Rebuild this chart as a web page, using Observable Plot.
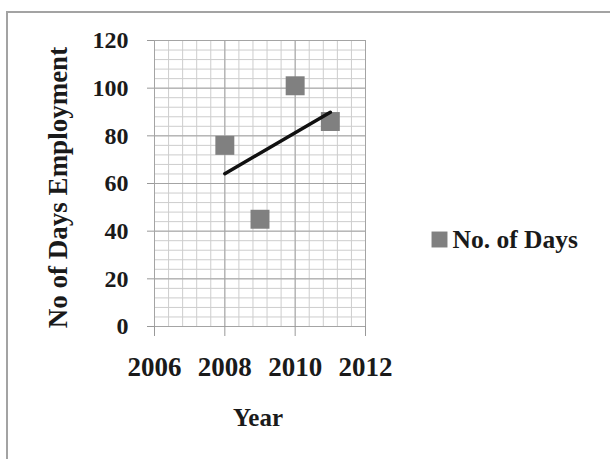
<!DOCTYPE html>
<html>
<head>
<meta charset="utf-8">
<script src="https://cdn.jsdelivr.net/npm/d3@7"></script>
<script src="https://cdn.jsdelivr.net/npm/@observablehq/plot@0.6"></script>
<style>
  html, body { margin: 0; padding: 0; background: #fff; }
  #wrap { position: relative; width: 610px; height: 459px; overflow: hidden; }
  #border { position: absolute; left: 6px; top: 11px; width: 700px; height: 600px; border: 2px solid #a3a3a3; box-sizing: border-box; }
  #chart { position: absolute; left: 0; top: 0; }
</style>
</head>
<body>
<div id="wrap"><div id="border"></div><div id="chart"></div></div>
<script>
const years = [2008, 2009, 2010, 2011];
const days = [76, 45, 101, 86];
const xTicks = [2006, 2008, 2010, 2012];
const yTicks = [0, 20, 40, 60, 80, 100, 120];
const seriesName = "No. of Days";
const xLabel = "Year";
const yLabel = "No of Days Employment";

const data = years.map((y, i) => ({year: y, days: days[i]}));
const xMinor = d3.range(0, 16).map(i => 2006 + i * 0.4);
const yMinor = d3.range(0, 31).map(i => i * 4);

const font = "'Liberation Serif', 'Times New Roman', serif";

const chart = Plot.plot({
  width: 610,
  height: 459,
  marginLeft: 154,
  marginRight: 245,
  marginTop: 40,
  marginBottom: 133,
  style: {fontFamily: font, fontWeight: "bold", color: "#1a1a1a", background: "transparent"},
  x: {domain: [2006, 2012]},
  y: {domain: [0, 120]},
  marks: [
    Plot.gridX(xMinor, {stroke: "#cdcdcd", strokeOpacity: 1, strokeWidth: 1}),
    Plot.gridY(yMinor, {stroke: "#cdcdcd", strokeOpacity: 1, strokeWidth: 1}),
    Plot.gridX(xTicks, {stroke: "#a4a4a4", strokeOpacity: 1, strokeWidth: 1}),
    Plot.gridY(yTicks, {stroke: "#a4a4a4", strokeOpacity: 1, strokeWidth: 1}),
    Plot.dot(data, {x: "year", y: "days", symbol: "square", r: 10.7, fill: "#808080", stroke: "none"}),
    Plot.linearRegressionY(data, {x: "year", y: "days", ci: 0, stroke: "#111", strokeWidth: 3.5}),
    Plot.axisY({ticks: yTicks, tickSize: 7, tickPadding: 19, stroke: "#999", fill: "#1a1a1a", fontSize: 24, label: null, tickFormat: d => String(d)}),
    Plot.axisX({ticks: xTicks, tickSize: 10, tickPadding: 20, stroke: "#999", fill: "#1a1a1a", fontSize: 27, label: null, tickFormat: d => String(d)}),
    Plot.text([yLabel], {frameAnchor: "left", textAnchor: "middle", lineAnchor: "middle", rotate: -90, dx: -96, dy: 4, fontSize: 27, fill: "#1a1a1a"}),
    Plot.text([xLabel], {frameAnchor: "bottom", textAnchor: "middle", lineAnchor: "middle", dx: -2, dy: 91, fontSize: 25, fill: "#1a1a1a"}),
    Plot.dot([seriesName], {frameAnchor: "right", dx: 74, dy: 56, symbol: "square", r: 9, fill: "#808080", stroke: "none"}),
    Plot.text([seriesName], {frameAnchor: "right", dx: 87, dy: 56, textAnchor: "start", lineAnchor: "middle", fontSize: 25.5, fill: "#1a1a1a"})
  ]
});
document.getElementById("chart").appendChild(chart);
</script>
</body>
</html>
